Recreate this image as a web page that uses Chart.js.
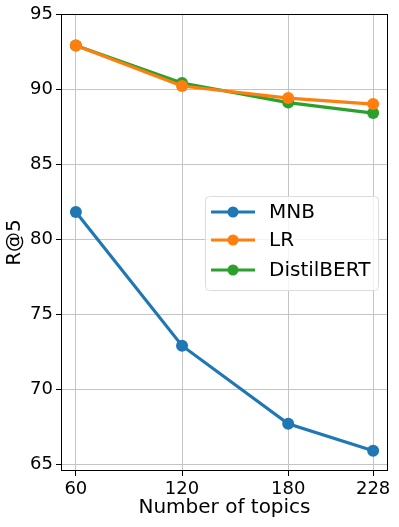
<!DOCTYPE html>
<html>
<head>
<meta charset="utf-8">
<script src="https://cdn.jsdelivr.net/npm/chart.js@4/dist/chart.umd.min.js"></script>
<style>
  html, body { margin: 0; padding: 0; background: #fff; }
  #wrap { width: 399px; height: 527px; }
</style>
</head>
<body>
<div id="wrap"><canvas id="chart" width="399" height="527"></canvas></div>
<script>
const topics = [60, 120, 180, 228];
const mnb = [81.8, 72.9, 67.7, 65.9];
const lr = [92.9, 90.2, 89.4, 89.0];
const distilbert = [92.9, 90.4, 89.1, 88.4];
const yTicks = [65, 70, 75, 80, 85, 90, 95];

const FONT = "'DejaVu Sans', sans-serif";

const toPoints = (vals) => topics.map((t, i) => ({ x: t, y: vals[i] }));

// frame around the plot area (matplotlib-style spines)
const framePlugin = {
  id: 'frame',
  afterDatasetsDraw(chart) {
    const { ctx, chartArea: a } = chart;
    ctx.save();
    ctx.strokeStyle = '#000';
    ctx.lineWidth = 1;
    ctx.strokeRect(a.left + 0.5, a.top + 0.5, a.right - a.left - 1, a.bottom - a.top - 1);
    ctx.restore();
  }
};

// legend drawn inside the axes, right side
const legendPlugin = {
  id: 'innerLegend',
  afterDraw(chart) {
    const { ctx } = chart;
    const x0 = 205, y0 = 196, w = 173, h = 94;
    ctx.save();
    ctx.fillStyle = 'rgba(255,255,255,0.8)';
    ctx.strokeStyle = '#dcdcdc';
    ctx.lineWidth = 1;
    ctx.beginPath();
    ctx.roundRect(x0 + 0.5, y0 + 0.5, w, h, 4);
    ctx.fill();
    ctx.stroke();
    const rows = [212, 240, 270];
    chart.data.datasets.forEach((ds, i) => {
      const y = rows[i];
      ctx.strokeStyle = ds.borderColor;
      ctx.lineWidth = 3;
      ctx.beginPath();
      ctx.moveTo(211, y);
      ctx.lineTo(255, y);
      ctx.stroke();
      ctx.fillStyle = ds.borderColor;
      ctx.beginPath();
      ctx.arc(233, y, 5.5, 0, Math.PI * 2);
      ctx.fill();
      ctx.fillStyle = '#000';
      ctx.font = '20px ' + FONT;
      ctx.textBaseline = 'middle';
      ctx.textAlign = 'left';
      ctx.fillText(ds.label, 269, y + 1);
    });
    ctx.restore();
  }
};

const makeSet = (label, vals, color) => ({
  label,
  data: toPoints(vals),
  borderColor: color,
  backgroundColor: color,
  borderWidth: 3.2,
  pointRadius: 6,
  pointHoverRadius: 6,
  pointBorderWidth: 0,
  tension: 0
});

new Chart(document.getElementById('chart'), {
  type: 'line',
  data: {
    datasets: [
      makeSet('MNB', mnb, '#1f77b4'),
      makeSet('LR', lr, '#ff7f0e'),
      makeSet('DistilBERT', distilbert, '#2ca02c')
    ]
  },
  options: {
    responsive: false,
    animation: false,
    events: [],
    layout: { padding: { top: 14, right: 11, left: 0, bottom: 0 } },
    plugins: {
      legend: { display: false },
      tooltip: { enabled: false }
    },
    scales: {
      x: {
        type: 'linear',
        min: 51.6,
        max: 236.4,
        afterBuildTicks(scale) {
          scale.ticks = topics.map(v => ({ value: v }));
        },
        afterFit(scale) { scale.height = 56; },
        grid: { color: '#c4c4c4', lineWidth: 1, tickLength: 5, tickColor: '#000' },
        border: { display: false },
        ticks: { color: '#000', font: { family: FONT, size: 18 }, padding: 3, maxRotation: 0,
          callback: v => String(v) },
        title: { display: true, text: 'Number of topics', color: '#000',
          font: { family: FONT, size: 20 }, padding: { top: 0, bottom: 7 } }
      },
      y: {
        type: 'linear',
        min: 64.55,
        max: 95,
        afterBuildTicks(scale) {
          scale.ticks = yTicks.map(v => ({ value: v }));
        },
        afterFit(scale) { scale.width = 61; },
        grid: { color: '#c4c4c4', lineWidth: 1, tickLength: 5, tickColor: '#000' },
        border: { display: false },
        ticks: { color: '#000', font: { family: FONT, size: 18 }, padding: 3,
          callback: v => String(v) },
        title: { display: true, text: 'R@5', color: '#000',
          font: { family: FONT, size: 20 }, padding: { top: 3, bottom: 0 } }
      }
    }
  },
  plugins: [framePlugin, legendPlugin]
});
</script>
</body>
</html>
